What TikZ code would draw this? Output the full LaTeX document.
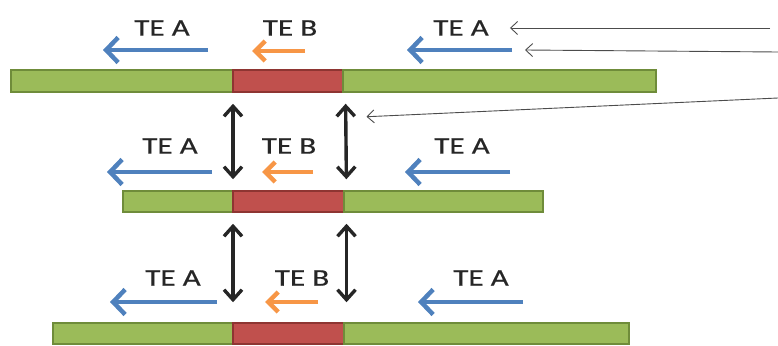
\documentclass[tikz,border=0pt]{standalone}
\usepackage{fontspec}
\setmainfont{Carlito}
\newfontfamily\labelfont[FakeStretch=1.3, FakeBold=0.4]{Carlito}
\usetikzlibrary{arrows.meta}
\definecolor{segGreen}{HTML}{9BBB59}
\definecolor{segGreenDk}{HTML}{6F8C3A}
\definecolor{segRed}{HTML}{C0504D}
\definecolor{segRedDk}{HTML}{8E3532}
\definecolor{teBlue}{HTML}{4F81BD}
\definecolor{teOrange}{HTML}{F79646}

\tikzset{
  seg/.style={draw, line width=1.5pt, inner sep=0pt, anchor=west},
  flank/.style={seg, fill=segGreen, draw=segGreenDk},
  insert/.style={seg, fill=segRed, draw=segRedDk},
  label/.style={font=\labelfont\fontsize{24}{24}\selectfont, text=black!85, inner sep=0pt},
  teA/.style={draw=teBlue, line width=4.5pt, -{Straight Barb[length=12pt,width=25pt]}},
  teB/.style={draw=teOrange, line width=4.5pt, -{Straight Barb[length=10pt,width=20pt]}},
  link/.style={draw=black!85, line width=3.4pt, {Straight Barb[length=10pt,width=18pt]}-{Straight Barb[length=10pt,width=18pt]}},
  pointer/.style={draw=black!70, line width=0.9pt, -{Straight Barb[length=7pt,width=13pt]}}
}

\begin{document}
\begin{tikzpicture}[x=1pt, y=-1pt]
    \useasboundingbox (0,0) rectangle (778,345);

    % Top strand
    \node[flank, minimum width=222pt, minimum height=22pt] (g1l) at (10,81) {};
    \node[insert, minimum width=110pt, minimum height=22pt] (r1) at (232,81) {};
    \node[flank, minimum width=313pt, minimum height=22pt] (g1r) at (342,81) {};

    % Middle strand
    \node[flank, minimum width=110pt, minimum height=21pt] (g2l) at (122,201.5) {};
    \node[insert, minimum width=111pt, minimum height=21pt] (r2) at (232,201.5) {};
    \node[flank, minimum width=199pt, minimum height=21pt] (g2r) at (343,201.5) {};

    % Bottom strand
    \node[flank, minimum width=180pt, minimum height=21pt] (g3l) at (52,333.5) {};
    \node[insert, minimum width=111pt, minimum height=21pt] (r3) at (232,333.5) {};
    \node[flank, minimum width=285pt, minimum height=21pt] (g3r) at (343,333.5) {};

    % Element names
    \node[label] (ta11) at (162,28) {TE A};
    \node[label] (tb1) at (290,28) {TE B};
    \node[label] (ta12) at (461,28) {TE A};
    \node[label] (ta21) at (170,146) {TE A};
    \node[label] (tb2) at (289,146) {TE B};
    \node[label] (ta22) at (462,146) {TE A};
    \node[label] (ta31) at (173,278) {TE A};
    \node[label] (tb3) at (302,278) {TE B};
    \node[label] (ta32) at (481,278) {TE A};

    % Orientation arrows
    \coordinate (a11s) at (208,50);  \coordinate (a11e) at (103,50);
    \coordinate (b1s) at (305,51);   \coordinate (b1e) at (252,51);
    \coordinate (a12s) at (512,50);  \coordinate (a12e) at (407,50);
    \coordinate (a21s) at (212,172); \coordinate (a21e) at (107,172);
    \coordinate (b2s) at (313,172);  \coordinate (b2e) at (262,172);
    \coordinate (a22s) at (510,172); \coordinate (a22e) at (405,172);
    \coordinate (a31s) at (217,302); \coordinate (a31e) at (110,302);
    \coordinate (b3s) at (318,302);  \coordinate (b3e) at (265,302);
    \coordinate (a32s) at (523,302); \coordinate (a32e) at (418,302);
    \draw[teA] (a11s) -- (a11e);
    \draw[teB] (b1s) -- (b1e);
    \draw[teA] (a12s) -- (a12e);
    \draw[teA] (a21s) -- (a21e);
    \draw[teB] (b2s) -- (b2e);
    \draw[teA] (a22s) -- (a22e);
    \draw[teA] (a31s) -- (a31e);
    \draw[teB] (b3s) -- (b3e);
    \draw[teA] (a32s) -- (a32e);

    % Breakpoint links between strands
    \draw[link, shorten <=11pt, shorten >=11pt] ([xshift=1pt]r1.south west) -- ([xshift=1pt]r2.north west);
    \draw[link, shorten <=11pt, shorten >=11pt] ([xshift=2pt]r1.south east) -- ([xshift=2pt]r2.north east);
    \draw[link, shorten <=11pt, shorten >=20pt] ([xshift=1pt]r2.south west) -- ([xshift=1pt]r3.north west);
    \draw[link, shorten <=11pt, shorten >=20pt] ([xshift=2pt]r2.south east) -- ([xshift=2pt]r3.north east);

    % Callout pointers
    \coordinate (p1) at (770,28);
    \coordinate (p2) at (778,52);
    \coordinate (p3) at (778,98);
    \draw[pointer] (p1) -- ([xshift=21pt]ta12.east);
    \draw[pointer] (p2) -- ([xshift=13pt]a12s);
    \draw[pointer] (p3) -- ([xshift=23pt, yshift=-24pt]r1.south east);
\end{tikzpicture}
\end{document}
